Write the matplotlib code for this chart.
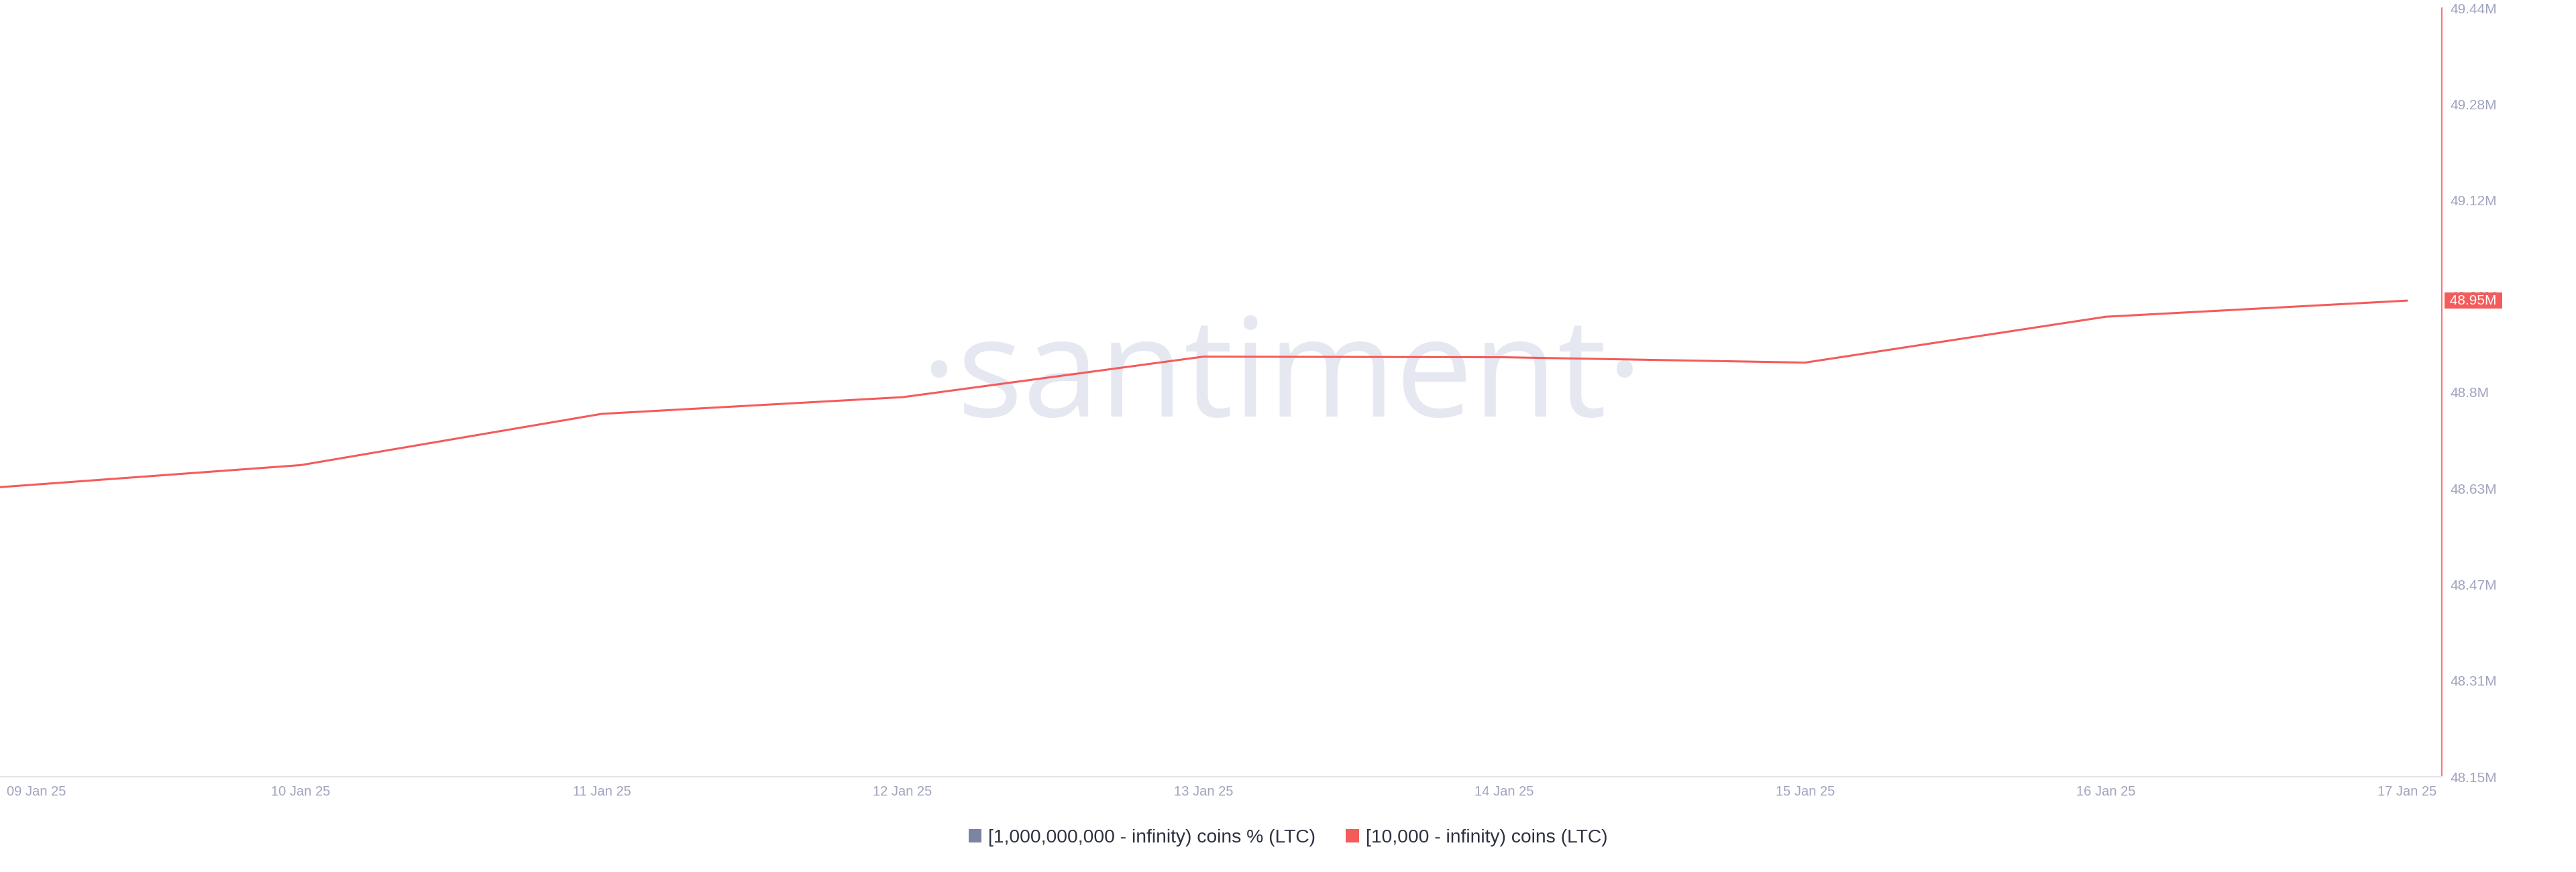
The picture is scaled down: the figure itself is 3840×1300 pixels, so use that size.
import matplotlib
matplotlib.use("Agg")
import matplotlib.pyplot as plt
import matplotlib.dates as mdates
from matplotlib.patches import Patch
from matplotlib.transforms import ScaledTranslation
import numpy as np
import pandas as pd

# holders of 10,000+ LTC, millions of coins
dates = ["2025-01-09", "2025-01-10", "2025-01-11", "2025-01-12", "2025-01-13",
         "2025-01-14", "2025-01-15", "2025-01-16", "2025-01-17"]
coins_10k = [48.636, 48.673, 48.759, 48.787, 48.855, 48.854, 48.845, 48.922, 48.949]
legend_labels = ["[1,000,000,000 - infinity) coins % (LTC)", "[10,000 - infinity) coins (LTC)"]
y_min, y_max = 48.15, 49.44

RED = "#f45b5b"
TICK = "#a0a4be"
x = pd.to_datetime(dates)

fig = plt.figure(figsize=(38.4, 13), dpi=100)
ax = fig.add_axes([0, 142/1300, 3640/3840, 1146/1300])

ax.text(0.525, 0.515, "·santiment·", transform=ax.transAxes, ha="center", va="center",
        fontsize=148, color="#e5e8f0", family=["Open Sans", "DejaVu Sans"], zorder=0)

ax.plot(x, coins_10k, color=RED, lw=2.2, solid_joinstyle="round", zorder=2)

ax.set_ylim(y_min, y_max)
ax.set_xlim(x[0], x[-1] + pd.Timedelta(hours=2.8))
ax.set_yticks(np.linspace(y_min, y_max, 9))
ax.yaxis.set_major_formatter(plt.FuncFormatter(lambda v, p: f"{round(v, 2):g}M"))
ax.yaxis.tick_right()
ax.set_xticks(x)
ax.xaxis.set_major_formatter(mdates.DateFormatter("%d %b %y"))
ax.tick_params(axis="both", length=0, colors=TICK, labelsize=14.5)
ax.tick_params(axis="y", pad=9, labelsize=15)
ax.tick_params(axis="x", pad=9)
for lab in ax.get_yticklabels() + ax.get_xticklabels():
    lab.set_family("Liberation Sans")
first = ax.get_xticklabels()[0]
first.set_ha("left")
first.set_transform(first.get_transform() + ScaledTranslation(10/100, 0, fig.dpi_scale_trans))

for s in ("left", "top"):
    ax.spines[s].set_visible(False)
ax.spines["right"].set_color(RED)
ax.spines["right"].set_linewidth(1.2)
ax.spines["bottom"].set_color("#e4e5ea")
ax.spines["bottom"].set_linewidth(1.6)
ax.grid(False)

ax.annotate(f" {coins_10k[-1]:.2f}M ", xy=(1, coins_10k[-1]), xycoords=("axes fraction", "data"),
            xytext=(4.5, 0), textcoords="offset points", ha="left", va="center",
            fontsize=15, color="white", family="Liberation Sans", annotation_clip=False,
            bbox=dict(boxstyle="square,pad=0.12", fc=RED, ec="none"), zorder=5)

handles = [Patch(facecolor="#7b84a1", edgecolor="none"), Patch(facecolor=RED, edgecolor="none")]
fig.legend(handles, legend_labels, loc="center", bbox_to_anchor=(0.5, 1 - 1249/1300), ncol=2,
           frameon=False, handlelength=0.7, handleheight=0.7, handletextpad=0.35,
           columnspacing=1.6, labelcolor="#2e3140", prop={"family": "Liberation Sans", "size": 20.3})

fig.savefig("out.png", dpi=100, facecolor="white")
